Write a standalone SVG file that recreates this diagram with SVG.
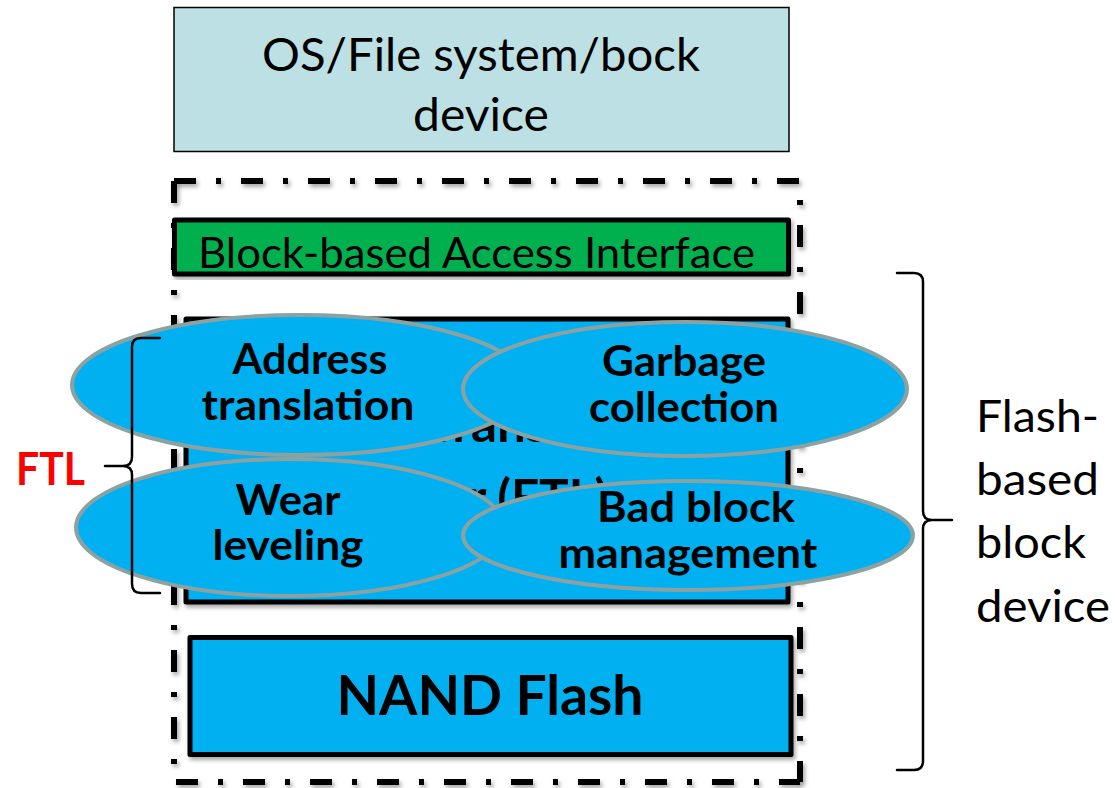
<svg xmlns="http://www.w3.org/2000/svg" width="1115" height="788" viewBox="0 0 1115 788">
  <defs>
    <filter id="shadow" x="-5%" y="-5%" width="110%" height="115%">
      <feDropShadow dx="2" dy="3" stdDeviation="2" flood-color="#000" flood-opacity="0.35"/>
    </filter>
    <style>
      .txt { font-family: Lato, "Liberation Sans", sans-serif; fill: #000; }
      .bold { font-weight: bold; }
      .mid { text-anchor: middle; }
      .layer { stroke: #000; stroke-width: 5; stroke-linejoin: round; filter: url(#shadow); }
      .func { fill: #00B0F0; stroke: #8CA2A2; stroke-width: 4; }
      .brace { fill: none; stroke: #000; stroke-width: 2.5; stroke-linecap: round; stroke-linejoin: round; }
      .frame { fill: none; stroke: #000; stroke-width: 6; stroke-dasharray: 22 20 5 20; filter: url(#shadow); }
    </style>
  </defs>

  <rect width="1115" height="788" fill="#fff"/>

  <!-- host software layer -->
  <g id="os">
    <rect x="174" y="7.5" width="615" height="144" fill="#BCE0E3" stroke="#000" stroke-width="1.5"/>
    <text class="txt mid" x="481" y="71" font-size="47" textLength="438" lengthAdjust="spacingAndGlyphs">OS/File system/bock</text>
    <text class="txt mid" x="481" y="131" font-size="47" textLength="136" lengthAdjust="spacingAndGlyphs">device</text>
  </g>

  <!-- dash-dot boundary of the flash device -->
  <g id="device-frame">
    <path class="frame" d="M174,181 H800 V782"/>
    <path class="frame" d="M174,181 V782 H800"/>
  </g>

  <g id="interface">
    <rect class="layer" x="174.5" y="220" width="614" height="54" fill="#00B050" stroke-width="5.5"/>
    <text class="txt" x="198" y="268" font-size="43" textLength="557" lengthAdjust="spacingAndGlyphs">Block-based Access Interface</text>
  </g>

  <g id="ftl-layer">
    <rect class="layer" x="186" y="319" width="602" height="283" fill="#00B0F0"/>
    <text class="txt bold mid" x="487.5" y="442" font-size="49" textLength="381" lengthAdjust="spacingAndGlyphs">Flash Translation</text>
    <text class="txt bold mid" x="487" y="515" font-size="49" textLength="242" lengthAdjust="spacingAndGlyphs">Layer (FTL)</text>
  </g>

  <g id="address-translation">
    <ellipse class="func" cx="300" cy="385" rx="228" ry="70"/>
    <text class="txt bold mid" x="310" y="374" font-size="42" textLength="155" lengthAdjust="spacingAndGlyphs">Address</text>
    <text class="txt bold mid" x="308" y="420" font-size="42" textLength="213" lengthAdjust="spacingAndGlyphs">translation</text>
  </g>

  <g id="garbage-collection">
    <ellipse class="func" cx="685" cy="389" rx="222" ry="67"/>
    <text class="txt bold mid" x="684" y="376" font-size="42" textLength="164" lengthAdjust="spacingAndGlyphs">Garbage</text>
    <text class="txt bold mid" x="684" y="422" font-size="42" textLength="190" lengthAdjust="spacingAndGlyphs">collection</text>
  </g>

  <g id="wear-leveling">
    <ellipse class="func" cx="290" cy="527.5" rx="214" ry="68.5"/>
    <text class="txt bold mid" x="288" y="515" font-size="42" textLength="105" lengthAdjust="spacingAndGlyphs">Wear</text>
    <text class="txt bold mid" x="288" y="560" font-size="42" textLength="151" lengthAdjust="spacingAndGlyphs">leveling</text>
  </g>

  <g id="bad-block-management">
    <ellipse class="func" cx="688" cy="535.5" rx="225" ry="54.5"/>
    <text class="txt bold mid" x="696" y="522" font-size="42" textLength="198" lengthAdjust="spacingAndGlyphs">Bad block</text>
    <text class="txt bold mid" x="688" y="568" font-size="42" textLength="259" lengthAdjust="spacingAndGlyphs">management</text>
  </g>

  <g id="nand">
    <rect class="layer" x="190" y="637.5" width="601" height="117" fill="#00B0F0"/>
    <text class="txt bold mid" x="490" y="715" font-size="55" textLength="307" lengthAdjust="spacingAndGlyphs">NAND Flash</text>
  </g>

  <!-- braces grouping the layers -->
  <g id="connectors">
    <path class="brace" d="M160,338 H141 Q132,338 132,347 V457 Q132,466 123,466 H105 M123,466 Q132,466 132,475 V584 Q132,593 141,593 H160"/>
    <path class="brace" d="M897,273 H914 Q923,273 923,282 V511 Q923,520 932,520 H952 M932,520 Q923,520 923,529 V761 Q923,770 914,770 H897"/>
  </g>

  <g id="ftl-label">
    <text class="txt bold" x="16" y="485" font-size="46" fill="#FF0000" style="fill:#FF0000" textLength="69" lengthAdjust="spacingAndGlyphs">FTL</text>
  </g>

  <g id="device-label">
    <text class="txt" x="976" y="432" font-size="45" textLength="123" lengthAdjust="spacingAndGlyphs">Flash-</text>
    <text class="txt" x="976" y="495" font-size="45" textLength="123" lengthAdjust="spacingAndGlyphs">based</text>
    <text class="txt" x="976" y="558" font-size="45" textLength="110" lengthAdjust="spacingAndGlyphs">block</text>
    <text class="txt" x="976" y="622" font-size="45" textLength="134" lengthAdjust="spacingAndGlyphs">device</text>
  </g>
</svg>
